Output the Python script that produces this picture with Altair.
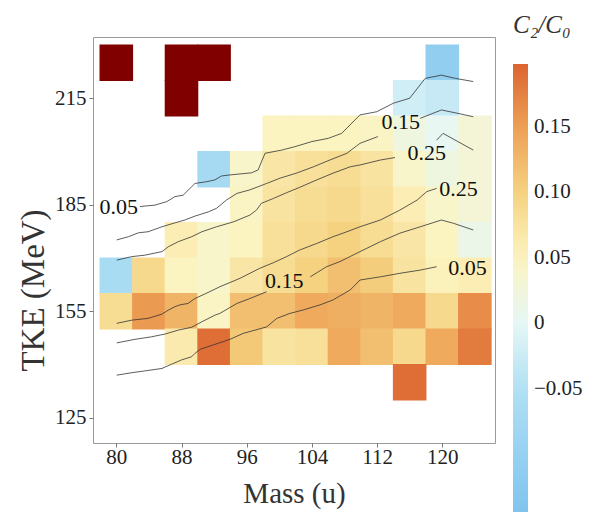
import altair as alt
import pandas as pd

# ---------------- heat-map data ----------------
masses = [80, 84, 88, 92, 96, 100, 104, 108, 112, 116, 120, 124]
tke_rows = [225, 215, 205, 195, 185, 175, 165, 155, 145, 135]
N = None
c2c0 = [
    [N, N, N, N, N, N, N, N, N, N, -0.11, N],
    [N, N, N, N, N, N, N, N, N, -0.02, -0.03, N],
    [N, N, N, N, N, 0.05, 0.05, 0.05, 0.045, 0.02, 0.005, 0.03],
    [N, N, N, -0.07, 0.04, 0.07, 0.08, 0.085, 0.075, 0.04, 0.02, 0.03],
    [N, N, N, N, 0.045, 0.075, 0.085, 0.09, 0.08, 0.06, 0.04, 0.03],
    [N, N, 0.06, 0.04, 0.05, 0.08, 0.09, 0.10, 0.085, 0.07, 0.05, 0.012],
    [-0.065, 0.09, 0.05, 0.04, 0.07, 0.085, 0.10, 0.12, 0.105, 0.075, 0.055, 0.06],
    [0.085, 0.155, 0.13, 0.045, 0.12, 0.12, 0.14, 0.135, 0.13, 0.14, 0.09, 0.165],
    [N, N, 0.065, 0.19, 0.11, 0.075, 0.08, 0.14, 0.12, 0.09, 0.14, 0.18],
    [N, N, N, N, N, N, N, N, N, 0.19, N, N],
]
# cells above the colour range (drawn dark red)
over_mass = [80, 88, 92, 88]
over_tke = [225, 225, 225, 215]

# ---------------- contour lines ----------------
A_mass = [82.9, 84.75, 86.2, 87.2, 88.2, 89.65, 91.1, 92.1, 92.9, 93.95, 96.6, 97.4, 98.25, 100.3,
          101.9, 104.0, 106.0, 107.65, 109.9, 111.95, 114.0, 116.0, 117.9, 119.9, 121.6, 123.8]
A_tke = [184.5, 184.9, 185.9, 187.3, 187.7, 191.0, 191.5, 192.0, 193.1, 193.4, 194.0, 194.8, 199.5, 200.4,
         201.35, 202.8, 203.7, 205.1, 210.3, 211.2, 213.6, 215.0, 220.6, 221.5, 220.6, 219.7]
B1_mass = [80.05, 81.5, 82.7, 83.9, 85.6, 87.2, 88.4, 89.65, 91.3, 92.3, 93.5, 94.8, 96.4, 98.45, 100.1,
           102.1, 104.2, 106.2, 108.3, 109.9, 112.1]
B1_tke = [175.1, 176.0, 177.1, 177.4, 178.8, 179.9, 180.7, 181.8, 183.0, 184.0, 186.3, 188.2, 189.2, 191.0,
          192.5, 193.9, 195.7, 197.6, 199.5, 202.3, 204.2]
B2_mass = [117.3, 119.9, 121.8, 123.8]
B2_tke = [209.35, 211.7, 210.8, 209.8]
C1_mass = [80.05, 81.9, 83.5, 85.6, 86.4, 87.6, 89.25, 90.5, 92.3, 94.4, 96.4, 97.2, 97.8, 99.3, 100.9,
           102.5, 104.6, 106.6, 108.7, 109.9, 112.4, 114.2]
C1_tke = [169.4, 170.4, 170.8, 171.8, 173.2, 174.6, 176.0, 177.4, 178.8, 180.2, 182.1, 183.5, 185.4, 186.8,
          188.4, 189.9, 192.0, 193.9, 195.7, 196.2, 197.6, 198.3]
C2_mass = [119.3, 120.1, 123.8]
C2_tke = [203.2, 205.1, 200.4]
D_mass = [80.05, 81.9, 83.9, 85.6, 86.4, 87.2, 87.8, 88.8, 89.65, 90.9, 92.7, 95.2, 97.6, 99.3, 100.9,
          102.5, 104.6, 106.6, 108.3, 109.9, 112.4, 114.8, 116.9, 118.1, 119.3]
D_tke = [151.6, 152.5, 153.0, 154.2, 155.35, 156.3, 156.8, 157.2, 158.6, 159.9, 161.9, 164.3, 167.1, 168.7,
         170.4, 172.25, 174.1, 176.0, 177.4, 178.8, 180.7, 183.5, 186.3, 188.7, 189.6]
E1_mass = [80.05, 82.3, 84.3, 86.0, 87.6, 89.25, 90.5, 92.1, 92.7, 94.8, 96.4, 98.45]
E1_tke = [146.1, 147.1, 147.8, 148.6, 149.7, 150.5, 152.05, 153.9, 154.4, 157.2, 158.6, 160.5]
E2_mass = [103.8, 105.8, 107.45, 109.9, 112.4, 114.8, 117.3, 119.9, 121.35, 123.8]
E2_tke = [164.7, 167.55, 169.0, 171.8, 174.6, 177.0, 178.8, 180.7, 179.8, 177.9]
F_mass = [80.05, 81.9, 83.5, 85.6, 86.8, 88.0, 89.25, 89.65, 90.3, 93.95, 95.6, 98.45, 99.7, 101.3,
          102.9, 105.0, 106.6, 108.7, 109.9, 112.4, 114.8, 117.3, 119.3]
F_tke = [137.0, 137.7, 138.2, 138.9, 140.1, 141.3, 142.2, 143.15, 144.3, 147.1, 148.8, 150.6, 153.0, 154.4,
         155.35, 156.8, 158.2, 161.0, 163.8, 164.7, 165.7, 166.6, 167.55]

label_text = ["0.05", "0.15", "0.25", "0.25", "0.15", "0.05"]
label_mass = [80.3, 114.9, 118.1, 122.0, 100.6, 123.1]
label_tke = [184.3, 208.2, 199.7, 189.4, 163.6, 167.1]

cbar_ticks = [-0.05, 0.0, 0.05, 0.10, 0.15]

# ---------------- build tables ----------------
cells = []
for t, row in zip(tke_rows, c2c0):
    for m, v in zip(masses, row):
        if v is not None:
            cells.append({"mass": m, "tke": t, "val": v})
cells_df = pd.DataFrame(cells)
over_df = pd.DataFrame({"mass": over_mass, "tke": over_tke})

segs = [("A", A_mass, A_tke), ("B1", B1_mass, B1_tke), ("B2", B2_mass, B2_tke),
        ("C1", C1_mass, C1_tke), ("C2", C2_mass, C2_tke), ("D", D_mass, D_tke),
        ("E1", E1_mass, E1_tke), ("E2", E2_mass, E2_tke), ("F", F_mass, F_tke)]
lines = []
for name, ms, ts in segs:
    for i, (m, t) in enumerate(zip(ms, ts)):
        lines.append({"seg": name, "i": i, "mass": m, "tke": t})
lines_df = pd.DataFrame(lines)
labels_df = pd.DataFrame({"txt": label_text, "mass": label_mass, "tke": label_tke})

# ---------------- scales / axes ----------------
SERIF = "Liberation Serif, Times New Roman, serif"
xs = alt.Scale(domain=[77.14, 126.47], nice=False, zero=False)
ys = alt.Scale(domain=[117.9, 232.25], nice=False, zero=False)
xaxis = alt.Axis(values=[80, 88, 96, 104, 112, 120], title="Mass (u)", labelBaseline="middle",
                 labelPadding=10, titleY=59, titleBaseline="alphabetic", titleFontSize=29)
yaxis = alt.Axis(values=[125, 155, 185, 215], title="TKE (MeV)", labelPadding=3,
                 titleX=-60, titleY=253, titleAlign="center", titleBaseline="middle",
                 titleAngle=-90, titleFontSize=33)

cdom = [-0.144, -0.05, 0.0, 0.05, 0.10, 0.15, 0.198]
crng = ["#80c4ee", "#b0e0f4", "#e6f7f6", "#fcf4c0", "#f5d280", "#eda055", "#dc6430"]
cscale = alt.Scale(domain=cdom, range=crng, interpolate="rgb")

# cells are 4 u wide and 10 MeV tall; a hair of overlap hides antialiasing seams
cell_calc = dict(m0="datum.mass - 2.06", m1="datum.mass + 2.06",
                 t0="datum.tke - 5.12", t1="datum.tke + 5.12")

heat = alt.Chart(cells_df).transform_calculate(**cell_calc).mark_rect().encode(
    x=alt.X("m0:Q", scale=xs, axis=xaxis), x2="m1:Q",
    y=alt.Y("t0:Q", scale=ys, axis=yaxis), y2="t1:Q",
    color=alt.Color("val:Q", scale=cscale,
                    legend=alt.Legend(
                        title="C₂/C₀", orient="none", legendX=420, legendY=-24,
                        direction="vertical", gradientLength=448, gradientThickness=15,
                        gradientStrokeWidth=0, values=cbar_ticks, padding=0,
                        titleFont=SERIF, titleFontStyle="italic", titleFontSize=25,
                        titleFontWeight="normal", titleColor="#333", titlePadding=26,
                        labelFont=SERIF, labelFontSize=21, labelColor="#222", labelOffset=6,
                        labelExpr="datum.value == 0 ? '0' : (datum.value < 0 ? '−' + format(-datum.value, '.2f') : format(datum.value, '.2f'))",
                        tickCount=5)),
)

over = alt.Chart(over_df).transform_calculate(**cell_calc).mark_rect(color="#800000").encode(
    x=alt.X("m0:Q", scale=xs, axis=xaxis), x2="m1:Q",
    y=alt.Y("t0:Q", scale=ys, axis=yaxis), y2="t1:Q",
)

contours = alt.Chart(lines_df).mark_line(color="#333333", strokeWidth=0.8).encode(
    x=alt.X("mass:Q", scale=xs, axis=xaxis),
    y=alt.Y("tke:Q", scale=ys, axis=yaxis),
    detail="seg:N", order="i:Q",
)

texts = alt.Chart(labels_df).mark_text(font=SERIF, fontSize=22, color="#111",
                                       baseline="middle", align="center").encode(
    x=alt.X("mass:Q", scale=xs, axis=xaxis),
    y=alt.Y("tke:Q", scale=ys, axis=yaxis),
    text="txt:N",
)

chart = alt.layer(heat, over, contours, texts).properties(
    width=402, height=406,
    padding={"left": 93, "top": 37, "right": 99, "bottom": 73},
    autosize=alt.AutoSizeParams(type="none"),
).configure_view(
    stroke="#9a9a9a", strokeWidth=1
).configure_axis(
    domain=False, grid=False, labelFont=SERIF, titleFont=SERIF, labelColor="#222",
    titleColor="#333", tickColor="#777", tickSize=4, labelFontSize=21,
    titleFontWeight="normal",
)

chart.save("out.html", embed_options={"renderer": "svg", "actions": False})
